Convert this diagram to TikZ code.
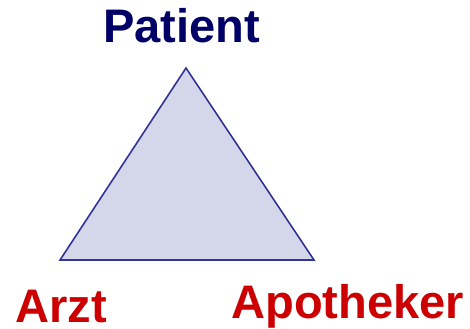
\documentclass[tikz,border=0pt]{standalone}
\usepackage{fontspec}
\setmainfont{Liberation Sans}
\definecolor{navy}{HTML}{000066}
\definecolor{redlab}{HTML}{CC0000}
\definecolor{trifill}{HTML}{D4D6EA}
\definecolor{triline}{HTML}{333399}
\begin{document}
\begin{tikzpicture}[x=0.75pt,y=-0.75pt,
  lab/.style={inner sep=0pt,anchor=base west,text depth=0pt,font=\fontsize{35.3pt}{40pt}\selectfont\bfseries}]
\useasboundingbox (0,0) rectangle (470,328);
\coordinate (P) at (186,68);
\coordinate (A) at (60,260);
\coordinate (B) at (314,260);
\filldraw[fill=trifill,draw=triline,line width=1.2pt,line join=miter] (P) -- (A) -- (B) -- cycle;
\node[lab,text=navy] (patient) at (103,43) {Patient};
\node[lab,text=redlab] (arzt) at (15,322) {Arzt};
\node[lab,text=redlab] (apo) at (231,318) {Apotheker};
\end{tikzpicture}
\end{document}
